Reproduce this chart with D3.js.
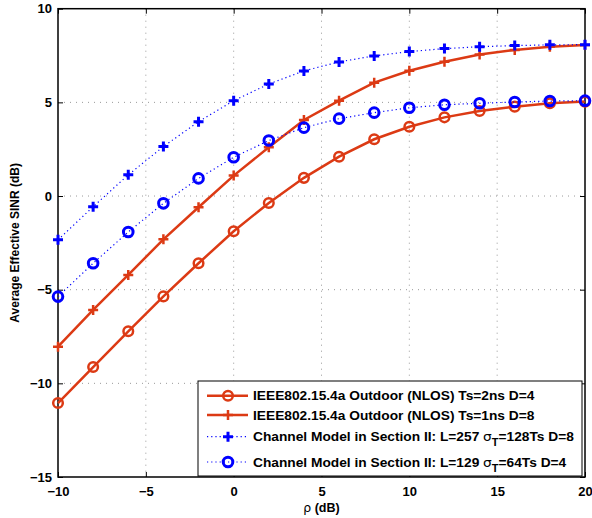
<!DOCTYPE html>
<html>
<head>
<meta charset="utf-8">
<script src="https://cdn.jsdelivr.net/npm/d3@7"></script>
<style>
  body { margin: 0; background: #fff; }
  #chart { width: 592px; height: 518px; }
  text { font-family: "Liberation Sans", Arial, sans-serif; }
</style>
</head>
<body>
<div id="chart"></div>
<script>
// --- data ---
const rho = [-10, -8, -6, -4, -2, 0, 2, 4, 6, 8, 10, 12, 14, 16, 18, 20];
const ieeeTs2 = [-11.05, -9.13, -7.22, -5.36, -3.59, -1.88, -0.37, 0.97, 2.1, 3.03, 3.7, 4.2, 4.54, 4.77, 4.95, 5.04];
const ieeeTs1 = [-8.04, -6.08, -4.21, -2.31, -0.6, 1.09, 2.6, 4.06, 5.09, 6.05, 6.69, 7.17, 7.56, 7.8, 7.97, 8.06];
const modelL257 = [-2.34, -0.57, 1.13, 2.64, 3.97, 5.09, 5.98, 6.68, 7.16, 7.48, 7.71, 7.87, 7.97, 8.03, 8.07, 8.08];
const modelL129 = [-5.37, -3.59, -1.92, -0.39, 0.94, 2.07, 2.96, 3.65, 4.13, 4.45, 4.71, 4.87, 4.95, 5.02, 5.07, 5.09];
const xTicks = [-10, -5, 0, 5, 10, 15, 20];
const yTicks = [-15, -10, -5, 0, 5, 10];

const RED = "#dc3a14";
const BLUE = "#0000ff";

const series = [
    { name: "IEEE802.15.4a Outdoor (NLOS) Ts=2ns D=4", values: ieeeTs2, color: RED, marker: "circle", dotted: false },
    { name: "IEEE802.15.4a Outdoor (NLOS) Ts=1ns D=8", values: ieeeTs1, color: RED, marker: "plus", dotted: false },
    { name: "Channel Model in Section II: L=257 |=128Ts D=8", values: modelL257, color: BLUE, marker: "plus", dotted: true },
    { name: "Channel Model in Section II: L=129 |=64Ts D=4", values: modelL129, color: BLUE, marker: "circle", dotted: true }
];

const width = 592, height = 518;
const margin = { left: 58, right: 7, top: 8.7, bottom: 41 };
const innerW = width - margin.left - margin.right;
const innerH = height - margin.top - margin.bottom;

const svg = d3.select("#chart").append("svg")
    .attr("width", width)
    .attr("height", height);

const g = svg.append("g").attr("transform", `translate(${margin.left},${margin.top})`);

const x = d3.scaleLinear().domain([-10, 20]).range([0, innerW]);
const y = d3.scaleLinear().domain([-15, 10]).range([innerH, 0]);

// grid
g.append("g").selectAll("line").data(xTicks.slice(1, -1)).join("line")
    .attr("x1", d => x(d)).attr("x2", d => x(d))
    .attr("y1", 0).attr("y2", innerH)
    .attr("stroke", "#999").attr("stroke-width", 1).attr("stroke-dasharray", "1,5");
g.append("g").selectAll("line").data(yTicks.slice(1, -1)).join("line")
    .attr("x1", 0).attr("x2", innerW)
    .attr("y1", d => y(d)).attr("y2", d => y(d))
    .attr("stroke", "#999").attr("stroke-width", 1).attr("stroke-dasharray", "1,5");

// axes with inward ticks on all four sides
const tickLen = 5;
const fmt = d => d < 0 ? "\u2212" + Math.abs(d) : d;
const axB = g.append("g").attr("transform", `translate(0,${innerH})`)
    .call(d3.axisBottom(x).tickValues(xTicks).tickSizeInner(-tickLen).tickSizeOuter(0).tickPadding(10).tickFormat(fmt));
const axL = g.append("g")
    .call(d3.axisLeft(y).tickValues(yTicks).tickSizeInner(-tickLen).tickSizeOuter(0).tickPadding(6).tickFormat(fmt));
const axT = g.append("g")
    .call(d3.axisTop(x).tickValues(xTicks).tickSizeInner(-tickLen).tickSizeOuter(0).tickFormat(""));
const axR = g.append("g").attr("transform", `translate(${innerW},0)`)
    .call(d3.axisRight(y).tickValues(yTicks).tickSizeInner(-tickLen).tickSizeOuter(0).tickFormat(""));

[axB, axL, axT, axR].forEach(a => {
    a.select(".domain").remove();
    a.selectAll(".tick line").attr("stroke", "#000").attr("stroke-width", 1);
    a.selectAll("text").attr("font-size", 13).attr("font-weight", "bold").attr("fill", "#000")
        .attr("font-family", "'Liberation Sans', Arial, sans-serif");
});

// box
g.append("rect").attr("width", innerW).attr("height", innerH)
    .attr("fill", "none").attr("stroke", "#000").attr("stroke-width", 1.5);

// marker helper
function drawMarker(sel, type, color, sw) {
    if (type === "circle") {
        sel.append("circle").attr("r", 4.8).attr("fill", "none")
            .attr("stroke", color).attr("stroke-width", sw);
    } else {
        sel.append("path").attr("d", "M-5,0H5M0,-5V5")
            .attr("stroke", color).attr("stroke-width", sw).attr("fill", "none");
    }
}

// lines + markers
const line = d3.line().x((d, i) => x(rho[i])).y(d => y(d));
series.forEach(s => {
    g.append("path").datum(s.values)
        .attr("d", line)
        .attr("fill", "none")
        .attr("stroke", s.color)
        .attr("stroke-width", s.dotted ? 1.2 : 2.5)
        .attr("stroke-dasharray", s.dotted ? "1.2,3" : null);
    const m = g.append("g").selectAll("g").data(s.values).join("g")
        .attr("transform", (d, i) => `translate(${x(rho[i])},${y(d)})`);
    m.each(function () { drawMarker(d3.select(this), s.marker, s.color, s.dotted ? 3 : 2.5); });
});

// legend
const lg = svg.append("g").attr("transform", "translate(198,381)");
lg.append("rect").attr("width", 384).attr("height", 95)
    .attr("fill", "#fff").attr("stroke", "#000").attr("stroke-width", 1);
const rowY = [14.7, 34, 55.7, 81];
series.forEach((s, i) => {
    const row = lg.append("g").attr("transform", `translate(0,${rowY[i]})`);
    row.append("line").attr("x1", 9).attr("x2", 50)
        .attr("stroke", s.color)
        .attr("stroke-width", s.dotted ? 1.2 : 2.5)
        .attr("stroke-dasharray", s.dotted ? "1.2,3" : null);
    drawMarker(row.append("g").attr("transform", "translate(30,0)"), s.marker, s.color, s.dotted ? 3 : 2.5);
    const t = row.append("text").attr("transform", "translate(55,4.5) scale(1.1,1)")
        .attr("font-size", 12.5).attr("font-weight", "bold").attr("fill", "#000");
    const parts = s.name.split("|");
    if (parts.length === 1) {
        t.text(s.name);
    } else {
        t.append("tspan").text(parts[0]);
        t.append("tspan").attr("font-family", "'DejaVu Sans', sans-serif").attr("font-weight", "normal").text("\u03c3");
        t.append("tspan").attr("dy", 5).attr("font-size", 10).text("T");
        t.append("tspan").attr("dy", -5).text(parts[1]);
    }
});

// axis labels
svg.append("text")
    .attr("x", margin.left + innerW / 2).attr("y", 512)
    .attr("text-anchor", "middle").attr("font-size", 12.5).attr("font-weight", "bold")
    .html("<tspan font-weight='normal' font-family='DejaVu Sans, sans-serif'>\u03c1</tspan> (dB)");

svg.append("text")
    .attr("transform", `translate(19,${margin.top + innerH / 2}) rotate(-90)`)
    .attr("text-anchor", "middle").attr("font-size", 12).attr("font-weight", "bold")
    .text("Average Effective SINR (dB)");
</script>
</body>
</html>
